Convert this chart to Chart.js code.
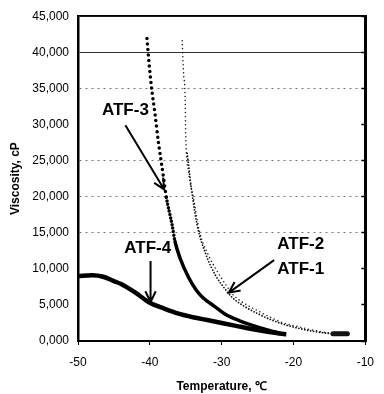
<!DOCTYPE html>
<html>
<head>
<meta charset="utf-8">
<script src="https://cdn.jsdelivr.net/npm/chart.js@4/dist/chart.umd.min.js"></script>
<style>
  html, body { margin: 0; padding: 0; background: #fff; }
  #wrap { width: 384px; height: 394px; }
</style>
</head>
<body>
<div id="wrap"><canvas id="myChart"></canvas></div>
<script>
// values (temperature in C, viscosity in cP)
const atf4Temp = [-50, -48, -46.5, -45, -44, -42, -40, -38, -36, -34, -32, -30, -28, -26, -24, -22, -21];
const atf4Visc = [9000, 9100, 8900, 8300, 7900, 6700, 5300, 4500, 3800, 3300, 2900, 2500, 2100, 1700, 1350, 1050, 950];

const atf3Temp = [-40.4, -40.1, -39.8, -39.3, -38.8, -38.2, -37.7, -36.9, -36.5, -35.8, -34.6, -33.5, -32.6, -31, -29.5, -27.5, -25.5, -23.5, -21.4];
const atf3Visc = [41900, 38400, 35400, 31600, 27500, 23400, 19900, 16100, 13800, 11500, 8800, 7000, 6000, 4800, 3700, 2800, 2100, 1500, 950];

const atf2Temp = [-35.5, -35.3, -35.1, -35.0, -34.6, -33.9, -33.1, -31.8, -30.4, -29.5, -28.5, -27, -25, -23, -21.4, -19, -17.3, -15, -12.8];
const atf2Visc = [41600, 37000, 34300, 28400, 23400, 19700, 15200, 11800, 9300, 7900, 6500, 5300, 4200, 3200, 2500, 1900, 1500, 1100, 850];

const atf1Temp = [-34.8, -34.2, -33.4, -32.2, -30.8, -29.6, -28.6, -27, -25, -23, -21, -19, -17, -15, -14.5, -12.5];
const atf1Visc = [26000, 21000, 16000, 12000, 9000, 7300, 6100, 4900, 3800, 2900, 2200, 1700, 1300, 1050, 1000, 1000];

const yTickLabels = ['0,000', '5,000', '10,000', '15,000', '20,000', '25,000', '30,000', '35,000', '40,000', '45,000'];
const xTickLabels = ['-50', '-40', '-30', '-20', '-10'];

// callouts: label text and arrow ends, in data units
const callouts = [
  { text: 'ATF-3', x: -43.4, y: 32000, from: [-43.4, 29900], to: [-38.0, 21000] },
  { text: 'ATF-4', x: -40.3, y: 12900, from: [-39.9, 11100], to: [-39.9, 5400] },
  { text: 'ATF-2', x: -19.0, y: 13400, from: null, to: null },
  { text: 'ATF-1', x: -19.0, y: 10000, from: [-22.7, 11200], to: [-29.0, 6700] }
];

const toPoints = (xs, ys) => xs.map((x, i) => ({ x: x, y: ys[i] }));

// draws the labels and arrows on top of the chart
const calloutPlugin = {
  id: 'callouts',
  afterDatasetsDraw(chart) {
    const ctx = chart.ctx;
    const xs = chart.scales.x, ys = chart.scales.y;
    ctx.save();
    ctx.fillStyle = '#000';
    ctx.strokeStyle = '#000';
    ctx.font = 'bold 17px "Liberation Sans", Arial, sans-serif';
    ctx.textAlign = 'center';
    ctx.textBaseline = 'middle';
    callouts.forEach(c => {
      ctx.fillText(c.text, xs.getPixelForValue(c.x), ys.getPixelForValue(c.y));
      if (!c.from) return;
      const x0 = xs.getPixelForValue(c.from[0]), y0 = ys.getPixelForValue(c.from[1]);
      const x1 = xs.getPixelForValue(c.to[0]), y1 = ys.getPixelForValue(c.to[1]);
      ctx.lineWidth = 2;
      ctx.beginPath();
      ctx.moveTo(x0, y0);
      ctx.lineTo(x1, y1);
      const a = Math.atan2(y1 - y0, x1 - x0);
      const len = 12;
      ctx.moveTo(x1 - len * Math.cos(a - 0.45), y1 - len * Math.sin(a - 0.45));
      ctx.lineTo(x1, y1);
      ctx.lineTo(x1 - len * Math.cos(a + 0.45), y1 - len * Math.sin(a + 0.45));
      ctx.stroke();
    });
    ctx.restore();
  }
};

const tickFont = { family: '"Liberation Sans", Arial, sans-serif', size: 12 };
const hiddenGrid = [0, 5000, 10000, 30000];

// ATF-3 is drawn as dots up high, getting denser, then a solid line
const atf3Dash = (c) => {
  const v = c.p0.parsed.y;
  if (v > 20000) return [0, 5.5];
  if (v > 14000) return [0, 3.5];
  return undefined;
};

const renderChart = () => {
  var ctx = document.getElementById('myChart').getContext('2d');
  var myChart = new Chart(ctx, {
    type: 'line',
    data: {
      datasets: [
        {
          label: 'ATF-4',
          data: toPoints(atf4Temp, atf4Visc),
          borderColor: '#000',
          borderWidth: 4.5,
          pointRadius: 0,
          cubicInterpolationMode: 'monotone'
        },
        {
          label: 'ATF-3',
          data: toPoints(atf3Temp, atf3Visc),
          borderColor: '#000',
          borderWidth: 3.5,
          borderCapStyle: 'round',
          pointRadius: 0,
          cubicInterpolationMode: 'monotone',
          segment: { borderDash: atf3Dash }
        },
        {
          label: 'ATF-2',
          data: toPoints(atf2Temp, atf2Visc),
          borderColor: '#222',
          borderWidth: 1.6,
          borderCapStyle: 'round',
          borderDash: [0, 4],
          pointRadius: 0,
          cubicInterpolationMode: 'monotone'
        },
        {
          label: 'ATF-1',
          data: toPoints(atf1Temp, atf1Visc),
          borderColor: '#111',
          borderWidth: 1.8,
          borderCapStyle: 'round',
          borderDash: [0, 3],
          pointRadius: 0,
          cubicInterpolationMode: 'monotone',
          segment: {
            borderWidth: c => c.p0.parsed.x >= -14.6 ? 5 : undefined,
            borderDash: c => c.p0.parsed.x >= -14.6 ? [] : undefined
          }
        }
      ]
    },
    options: {
      responsive: true,
      maintainAspectRatio: false,
      animation: false,
      layout: { autoPadding: false, padding: { left: 0, right: 9, top: 12, bottom: 0 } },
      plugins: { legend: { display: false }, tooltip: { enabled: false } },
      scales: {
        x: {
          type: 'linear',
          min: -50,
          max: -10,
          ticks: {
            stepSize: 10,
            color: '#000',
            font: tickFont,
            padding: 10,
            maxRotation: 0,
            callback: (v) => xTickLabels[Math.round((v + 50) / 10)]
          },
          grid: { drawOnChartArea: false, color: '#000', tickLength: 4, tickWidth: 1 },
          border: { color: '#000', width: 2 },
          title: {
            display: true,
            text: 'Temperature, ℃',
            color: '#000',
            font: { family: '"Liberation Sans", Arial, sans-serif', size: 12, weight: 'bold' },
            padding: { top: 5, bottom: 0 }
          },
          afterFit: (s) => { s.height = 53; }
        },
        x2: {
          type: 'linear',
          position: 'top',
          min: -50,
          max: -10,
          ticks: { display: false },
          grid: { display: false },
          border: { color: '#000', width: 1.5 },
          afterFit: (s) => { s.height = 0; }
        },
        y: {
          min: 0,
          max: 45000,
          ticks: {
            stepSize: 5000,
            color: '#000',
            font: tickFont,
            padding: 9,
            callback: (v) => yTickLabels[Math.round(v / 5000)]
          },
          grid: {
            drawTicks: false,
            color: c => hiddenGrid.includes(c.tick.value) ? 'rgba(0,0,0,0)' : (c.tick.value >= 40000 ? '#333' : '#777'),
            lineWidth: 1
          },
          border: {
            color: '#000',
            width: 2.5,
            dash: c => c.tick && c.tick.value >= 40000 ? [] : [2, 4]
          },
          title: {
            display: true,
            text: 'Viscosity, cP',
            color: '#000',
            font: { family: '"Liberation Sans", Arial, sans-serif', size: 12, weight: 'bold' },
            padding: { top: 8, bottom: 0 }
          },
          afterFit: (s) => { s.width = 78; }
        },
        y2: {
          position: 'right',
          min: 0,
          max: 45000,
          ticks: { display: false, stepSize: 5000 },
          grid: { drawOnChartArea: false, color: '#000', tickLength: -4, tickWidth: 1.5 },
          border: { color: '#000', width: 3 },
          afterFit: (s) => { s.width = 0; }
        }
      }
    },
    plugins: [calloutPlugin]
  });
};

document.addEventListener('DOMContentLoaded', function() {
  renderChart();
});
</script>
</body>
</html>
